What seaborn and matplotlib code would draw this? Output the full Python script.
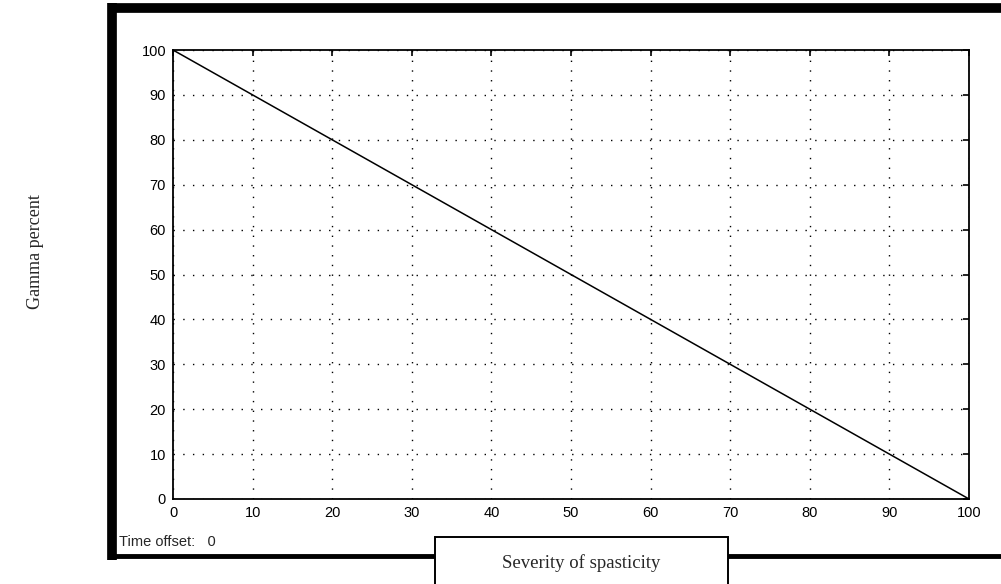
import matplotlib
matplotlib.use("Agg")
import matplotlib.pyplot as plt
from matplotlib.lines import Line2D
from matplotlib.patches import Rectangle
import seaborn as sns
import pandas as pd

# values
severity = [0, 10, 20, 30, 40, 50, 60, 70, 80, 90, 100]
gamma = [100, 90, 80, 70, 60, 50, 40, 30, 20, 10, 0]
x_ticks = [0, 10, 20, 30, 40, 50, 60, 70, 80, 90, 100]
y_ticks = [0, 10, 20, 30, 40, 50, 60, 70, 80, 90, 100]

W, H = 1001, 584


def fx(px):
    return px / W


def fy(py):
    return 1 - py / H


sns.set_style("white")
plt.rcParams['font.family'] = ['Liberation Sans', 'DejaVu Sans']

fig = plt.figure(figsize=(W / 100, H / 100), dpi=100)
ax = fig.add_axes([fx(173), fy(499), fx(969) - fx(173), fy(50) - fy(499)])

df = pd.DataFrame({"severity": severity, "gamma": gamma})
sns.lineplot(data=df, x="severity", y="gamma", ax=ax, color="black", lw=1.1)

ax.set_xlim(0, 100)
ax.set_ylim(0, 100)
ax.set_xticks(x_ticks)
ax.set_yticks(y_ticks)
ax.set_xlabel("")
ax.set_ylabel("")
ax.grid(True, color="black", lw=1.0, linestyle=(0, (1, 6)))
ax.tick_params(direction="in", length=4, width=1.2, top=True, right=True,
               labelsize=10.5, pad=5, colors="black")
for s in ax.spines.values():
    s.set_visible(True)
    s.set_color("black")
    s.set_linewidth(1.3)

# window frame around the axes
fig.add_artist(Line2D([fx(112), fx(112)], [fy(3), fy(560)], color="black", lw=7, solid_capstyle="butt"))
fig.add_artist(Line2D([fx(108), fx(1001)], [fy(8), fy(8)], color="black", lw=7, solid_capstyle="butt"))
fig.add_artist(Line2D([fx(108), fx(1001)], [fy(556), fy(556)], color="black", lw=3.5, solid_capstyle="butt"))

# x label box
fig.add_artist(Rectangle((fx(435), fy(590)), fx(728) - fx(435), fy(537) - fy(590),
                         facecolor="white", edgecolor="black", lw=1.4, zorder=5))
fig.text(fx(581), fy(563), "Severity of spasticity", ha="center", va="center",
         fontsize=13.5, family=["Liberation Serif", "DejaVu Serif"], zorder=6)

fig.text(fx(35), fy(252), "Gamma percent", ha="center", va="center", rotation=90,
         fontsize=13, family=["Liberation Serif", "DejaVu Serif"])
fig.text(fx(119), fy(542), "Time offset:   0", ha="left", va="center", fontsize=10.5)

fig.savefig("out.png", dpi=100)
